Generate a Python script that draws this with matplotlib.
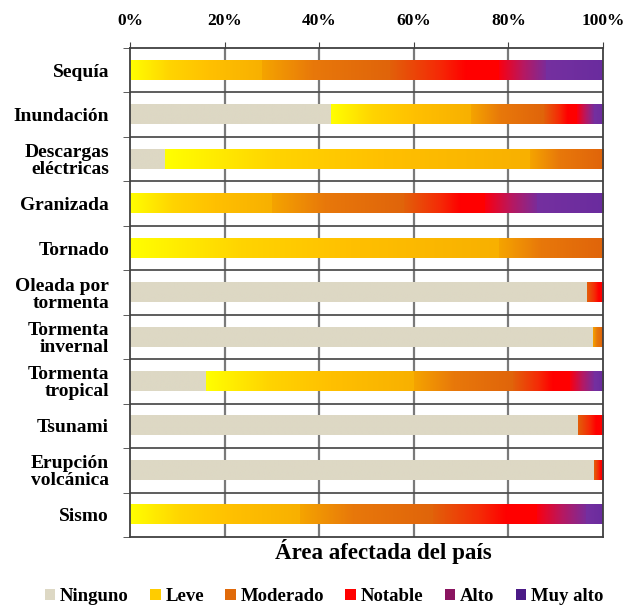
import numpy as np
import matplotlib
matplotlib.use( 'Agg' )
import matplotlib.pyplot as plt
from matplotlib.colors import LinearSegmentedColormap
from matplotlib.patches import Patch

categories = [ 'Sequía', 'Inundación', 'Descargas\neléctricas', 'Granizada', 'Tornado',
               'Oleada por\ntormenta', 'Tormenta\ninvernal', 'Tormenta\ntropical', 'Tsunami',
               'Erupción\nvolcánica', 'Sismo' ]
levels = [ 'Ninguno', 'Leve', 'Moderado', 'Notable', 'Alto', 'Muy alto' ]

ninguno  = [ 0,    42.5, 7.5,  0,  0,  96.6, 97.9, 16, 94.7, 98.0, 0 ]
leve     = [ 28,   29.5, 77,   30, 78, 0,    0,    44, 0,    0,    36 ]
moderado = [ 27,   15.5, 15.5, 28, 22, 0,    2.1,  21, 0,    0,    28 ]
notable  = [ 23,   7,    0,    17, 0,  3.4,  0,    12, 5.3,  2.0,  22 ]
alto     = [ 10,   3.5,  0,    11, 0,  0,    0,    5,  0,    0,    10.5 ]
muy_alto = [ 12,   2.5,  0,    14, 0,  0,    0,    2,  0,    0,    3.5 ]

# gradient stops per level (position, colour) inside each segment
grad = {
    'Ninguno':  [ ( 0, '#ddd8c4' ), ( 1, '#ddd8c4' ) ],
    'Leve':     [ ( 0, '#ffff00' ), ( 0.3, '#ffd400' ), ( 0.6, '#ffc000' ), ( 1, '#f8b000' ) ],
    'Moderado': [ ( 0, '#f5a400' ), ( 0.4, '#e8780a' ), ( 1, '#e0640a' ) ],
    'Notable':  [ ( 0, '#e2600a' ), ( 0.45, '#f52a06' ), ( 0.7, '#ff0000' ), ( 1, '#ff0000' ) ],
    'Alto':     [ ( 0, '#fa0010' ), ( 0.5, '#b81860' ), ( 1, '#7a2c9a' ) ],
    'Muy alto': [ ( 0, '#7530a0' ), ( 1, '#6a2c9e' ) ],
}
legend_col = [ '#ddd8c4', '#ffcc00', '#e06a0a', '#ff0000', '#8a1460', '#4b1a86' ]

data = [ ninguno, leve, moderado, notable, alto, muy_alto ]

serif = 'Liberation Serif'
plt.rcParams[ 'font.family' ] = [ serif, 'DejaVu Serif' ]
plt.rcParams[ 'font.weight' ] = 'bold'

fig = plt.figure( figsize=( 6.29, 6.07 ), dpi=100 )
ax = fig.add_axes( [ 0.2067, 0.1153, 0.752, 0.8056 ] )

n = len( categories )
ypos = np.arange( n )
h = 0.43

left = np.zeros( n )
g = np.linspace( 0, 1, 256 ).reshape( 1, -1 )
for lev, vals in zip( levels, data ):
    cmap = LinearSegmentedColormap.from_list( lev, grad[ lev ] )
    for i in range( n ):
        w = vals[ i ]
        if w <= 0:
            continue
        ax.imshow( g, cmap=cmap, aspect='auto', extent=[ left[ i ], left[ i ] + w, ypos[ i ] + h / 2, ypos[ i ] - h / 2 ],
                   zorder=2, interpolation='bilinear' )
    left += np.array( vals )

ax.set_xlim( 0, 100 )
ax.set_ylim( n - 0.5, -0.5 )

# grid
for x in [ 20, 40, 60, 80 ]:
    ax.axvline( x, color='#7a7a7a', lw=1.6, zorder=1 )
for y in np.arange( 0.5, n - 1, 1 ):
    ax.axhline( y, color='#505050', lw=1.3, zorder=1 )

for s in ax.spines.values():
    s.set_color( '#404040' )
    s.set_linewidth( 1.3 )

ax.xaxis.tick_top()
ax.set_xticks( [ 0, 20, 40, 60, 80, 100 ] )
ax.set_xticklabels( [ '0%', '20%', '40%', '60%', '80%', '100%' ], fontweight='bold', fontsize=12.5 )
ax.tick_params( axis='x', length=4, color='#404040', pad=10 )

ax.set_yticks( ypos )
ax.set_yticklabels( categories, fontweight='bold', fontsize=14, linespacing=1.0 )
ax.tick_params( axis='y', length=0, pad=15 )
ax.set_yticks( np.arange( -0.5, n, 1 ), minor=True )
ax.tick_params( axis='y', which='minor', length=5, color='#404040' )

fig.text( 0.61, 0.092, 'Área afectada del país', ha='center', va='center',
          fontweight='bold', fontsize=16.5 )

handles = [ Patch( facecolor=c, edgecolor='none' ) for c in legend_col ]
leg = fig.legend( handles, levels, loc='center', bbox_to_anchor=( 0.515, 0.017 ), ncol=6, frameon=False,
                  fontsize=13.5, handlelength=0.55, handleheight=0.55, handletextpad=0.25, columnspacing=1.15 )
for t in leg.get_texts():
    t.set_fontfamily( serif )
    t.set_fontweight( 'bold' )

fig.savefig( 'out.png', dpi=100, facecolor='white' )
